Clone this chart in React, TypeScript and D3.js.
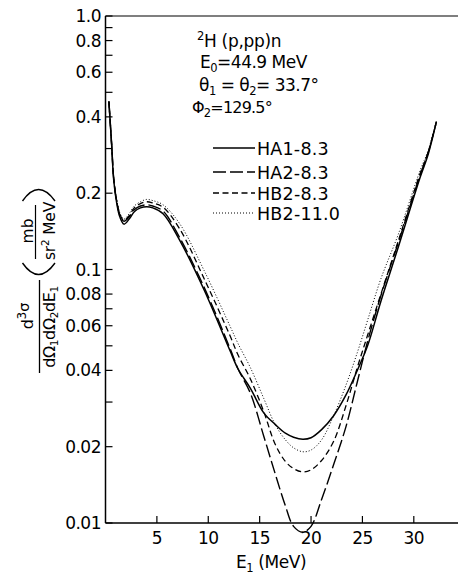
import React from "react";
import * as d3 from "d3";

// ---- data ----
const energies = [0.33, 0.6, 0.8, 1.1, 1.4, 1.8, 2.3, 2.8, 3.4, 4.0, 4.6, 5.6, 7.2, 9.6, 12.1, 12.9, 14.1, 15.4, 16.5, 17.5, 18.3, 19.2, 20.0, 21.0, 22.2, 23.4, 24.5, 25.5, 26.8, 28.5, 30.6, 31.4, 32.2];
const ha1_83 = [0.46, 0.31, 0.225, 0.182, 0.161, 0.151, 0.158, 0.169, 0.175, 0.177, 0.175, 0.166, 0.131, 0.083, 0.048, 0.0405, 0.034, 0.0272, 0.0245, 0.0226, 0.0218, 0.0214, 0.0217, 0.0233, 0.0265, 0.032, 0.040, 0.050, 0.075, 0.123, 0.23, 0.285, 0.383];
const ha2_83 = [0.46, 0.31, 0.228, 0.185, 0.164, 0.155, 0.161, 0.172, 0.178, 0.180, 0.178, 0.170, 0.134, 0.085, 0.049, 0.0405, 0.0325, 0.022, 0.0157, 0.0117, 0.0097, 0.0092, 0.0097, 0.0123, 0.017, 0.024, 0.036, 0.052, 0.079, 0.128, 0.235, 0.29, 0.383];
const hb2_83 = [0.46, 0.31, 0.228, 0.186, 0.165, 0.156, 0.163, 0.175, 0.182, 0.185, 0.183, 0.176, 0.145, 0.092, 0.055, 0.046, 0.037, 0.0275, 0.0205, 0.0175, 0.0164, 0.0159, 0.0162, 0.0176, 0.021, 0.029, 0.041, 0.055, 0.080, 0.13, 0.238, 0.29, 0.383];
const hb2_110 = [0.46, 0.31, 0.23, 0.188, 0.167, 0.158, 0.166, 0.178, 0.185, 0.189, 0.187, 0.180, 0.152, 0.099, 0.060, 0.051, 0.041, 0.031, 0.0245, 0.0213, 0.0198, 0.0191, 0.0194, 0.0212, 0.0265, 0.035, 0.047, 0.063, 0.092, 0.138, 0.245, 0.295, 0.383];

const seriesNames = ["HA1-8.3", "HA2-8.3", "HB2-8.3", "HB2-11.0"];
const seriesValues = [ha1_83, ha2_83, hb2_83, hb2_110];
const seriesDash = ["none", "13,4", "6,3.5", "1,2"];
const seriesWidth = [1.5, 1.4, 1.3, 1.0];

const xTicks = [5, 10, 15, 20, 25, 30];
const yMajorTicks = [1.0, 0.8, 0.6, 0.4, 0.2, 0.1, 0.08, 0.06, 0.04, 0.02, 0.01];
const yMajorLabels = ["1.0", "0.8", "0.6", "0.4", "0.2", "0.1", "0.08", "0.06", "0.04", "0.02", "0.01"];
const yMinorTicks = [0.9, 0.7, 0.5, 0.3, 0.07, 0.05, 0.03];

const W = 458;
const H = 577;
const FONT = "'DejaVu Sans', 'Liberation Sans', sans-serif";

export default function App() {
  const x = d3.scaleLinear().domain([0, 34.3]).range([105.5, 458]);
  const y = d3.scaleLog().domain([0.01, 1]).range([523, 16]);
  const line = d3
    .line<[number, number]>()
    .x((d) => x(d[0]))
    .y((d) => y(d[1]))
    .curve(d3.curveCatmullRom.alpha(0.5));

  const left = x(0);
  const bottom = y(0.01);
  const top = y(1);

  return (
    <svg
      width={W}
      height={H}
      style={{ position: "absolute", left: 0, top: 0, background: "#fff" }}
      fontFamily={FONT}
    >
      <rect x={0} y={0} width={W} height={H} fill="#fff" />
      {/* frame */}
      <line x1={left} y1={top} x2={W} y2={top} stroke="#000" strokeWidth={1.2} />
      <line x1={left} y1={top} x2={left} y2={bottom} stroke="#000" strokeWidth={1.5} />
      <line x1={left} y1={bottom} x2={W} y2={bottom} stroke="#000" strokeWidth={1.5} />

      {/* y ticks */}
      {yMajorTicks.map((t, i) => (
        <g key={"ym" + i}>
          <line x1={left} x2={left + 7} y1={y(t)} y2={y(t)} stroke="#000" strokeWidth={1.2} />
          <text
            x={101}
            y={y(t)}
            textAnchor="end"
            dominantBaseline="central"
            fontSize={17}
            letterSpacing={-0.5}
          >
            {yMajorLabels[i]}
          </text>
        </g>
      ))}
      {yMinorTicks.map((t, i) => (
        <line key={"yn" + i} x1={left} x2={left + 7} y1={y(t)} y2={y(t)} stroke="#000" strokeWidth={1.2} />
      ))}

      {/* x ticks */}
      {xTicks.map((t) => (
        <g key={"x" + t}>
          <line x1={x(t)} x2={x(t)} y1={bottom} y2={bottom - 7} stroke="#000" strokeWidth={1.2} />
          <text x={x(t)} y={544} textAnchor="middle" fontSize={17} letterSpacing={-0.6}>
            {t}
          </text>
        </g>
      ))}

      {/* x axis title */}
      <text x={236} y={568} fontSize={17} letterSpacing={-0.4}>
        E<tspan fontSize={11.5} dy={4}>1</tspan>
        <tspan dy={-4}> (MeV)</tspan>
      </text>

      {/* y axis title */}
      <g transform="translate(33,316) rotate(-90)">
        <text textAnchor="middle" fontSize={16}>
          d<tspan fontSize={11.5} dy={-7}>3</tspan>
          <tspan fontSize={14.5} dy={3}>σ</tspan>
        </text>
      </g>
      <line x1={39.5} x2={39.5} y1={280} y2={373} stroke="#000" strokeWidth={1.3} />
      <g transform="translate(54.5,327) rotate(-90)">
        <text textAnchor="middle" fontSize={16} letterSpacing={-0.4}>
          dΩ<tspan fontSize={10.5} dy={3}>1</tspan>
          <tspan dy={-3}>dΩ</tspan>
          <tspan fontSize={10.5} dy={3}>2</tspan>
          <tspan dy={-3}>dE</tspan>
          <tspan fontSize={10.5} dy={3}>1</tspan>
        </text>
      </g>
      {/* large parentheses around the unit fraction (rotated) */}
      <path d="M 22.5 263 Q 38.5 286 55 263" fill="none" stroke="#000" strokeWidth={1.4} />
      <path d="M 22.5 201 Q 38.5 178 55 201" fill="none" stroke="#000" strokeWidth={1.4} />
      <g transform="translate(33,231) rotate(-90)">
        <text textAnchor="middle" fontSize={15.5}>mb</text>
      </g>
      <line x1={35.5} x2={35.5} y1={205} y2={259} stroke="#000" strokeWidth={1.2} />
      <g transform="translate(55,231) rotate(-90)">
        <text textAnchor="middle" fontSize={15.5} letterSpacing={-0.2}>
          sr<tspan fontSize={10.5} dy={-6}>2</tspan>
          <tspan dy={6}> MeV</tspan>
        </text>
      </g>

      {/* curves */}
      <g fill="none" stroke="#000">
        {seriesValues.map((vals, i) => (
          <path
            key={seriesNames[i]}
            d={line(energies.map((e, j) => [e, vals[j]] as [number, number])) || ""}
            strokeWidth={seriesWidth[i]}
            strokeDasharray={seriesDash[i]}
          />
        ))}
      </g>

      {/* annotation */}
      <text x={197} y={47} fontSize={17} letterSpacing={-0.3}>
        <tspan fontSize={11.5} dy={-7}>2</tspan>
        <tspan dy={7}>H (p,pp)n</tspan>
      </text>
      <text x={200} y={68} fontSize={17} letterSpacing={-0.5}>
        E<tspan fontSize={11.5} dy={4}>0</tspan>
        <tspan dy={-4}>=44.9 MeV</tspan>
      </text>
      <text x={199} y={91} fontSize={17} letterSpacing={-0.5}>
        θ<tspan fontSize={11.5} dy={4}>1</tspan>
        <tspan dy={-4}> = θ</tspan>
        <tspan fontSize={11.5} dy={4}>2</tspan>
        <tspan dy={-4}>= 33.7°</tspan>
      </text>
      <text x={192} y={113} fontSize={16} letterSpacing={-0.8}>
        Φ<tspan fontSize={11.5} dy={4}>2</tspan>
        <tspan dy={-4}>=129.5°</tspan>
      </text>

      {/* legend */}
      {seriesNames.map((name, i) => {
        const ly = [148, 172, 193, 213][i];
        return (
          <g key={"lg" + i}>
            <line
              x1={213}
              x2={255}
              y1={ly}
              y2={ly}
              stroke="#000"
              strokeWidth={seriesWidth[i]}
              strokeDasharray={seriesDash[i]}
            />
            <text x={257} y={ly + 6.5} fontSize={17.5} letterSpacing={0.2}>
              {name}
            </text>
          </g>
        );
      })}
    </svg>
  );
}
